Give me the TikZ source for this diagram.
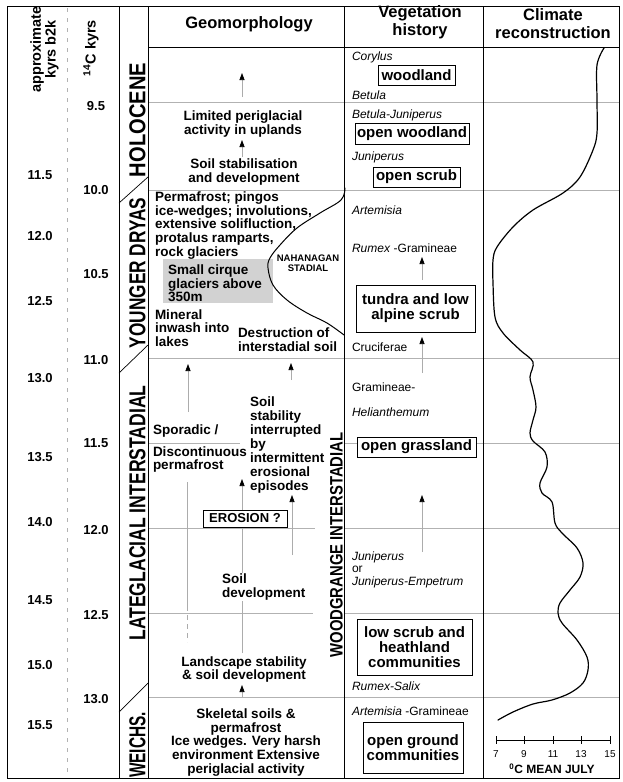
\documentclass[tikz,border=0pt]{standalone}
\usepackage{fontspec}
\setmainfont{Liberation Sans}
\usepackage{graphicx}
\usetikzlibrary{arrows.meta}
\begin{document}
\begin{tikzpicture}[x=1pt,y=-1pt,
  every node/.style={inner sep=0pt, outer sep=0pt},
  gridline/.style={draw=gray!60, line width=0.6pt},
  frameline/.style={draw=black, line width=1pt},
  colline/.style={draw=black, line width=0.9pt},
  hdr/.style={font=\fontsize{16.5}{18}\selectfont\bfseries, align=center},
  axlbl/.style={font=\fontsize{14.5}{13}\selectfont\bfseries, align=center, rotate=90},
  num/.style={font=\fontsize{13}{13}\selectfont\bfseries},
  period/.style={font=\fontsize{23}{23}\selectfont\bfseries, rotate=90},
  geo/.style={font=\fontsize{13.5}{13.8}\selectfont\bfseries, align=center},
  geoleft/.style={font=\fontsize{13.5}{13.6}\selectfont\bfseries, align=left, anchor=west},
  species/.style={font=\fontsize{12}{12}\selectfont\itshape, anchor=west, align=left},
  plainsp/.style={font=\fontsize{12}{12}\selectfont, anchor=west},
  vegbox/.style={draw=black, line width=0.8pt, fill=white, font=\fontsize{15}{15}\selectfont\bfseries, align=center},
  arr/.style={draw=gray!65, line width=0.7pt, -{Triangle[black,length=7pt,width=5pt]}},
  curve/.style={draw=black, line width=1.2pt, line join=round, line cap=round}
]
\useasboundingbox (0,0) rectangle (622,782);

% ---------- grid lines ----------
\draw[gridline] (148,102) -- (619,102);
\draw[gridline] (148,190) -- (619,190);
\draw[gridline] (148,358) -- (619,358);
\draw[gridline] (148,443) -- (240,443);
\draw[gridline] (344,443) -- (619,443);
\draw[gridline] (148,528) -- (315,528);
\draw[gridline] (344,528) -- (619,528);
\draw[gridline] (148,613) -- (313,613);
\draw[gridline] (344,613) -- (619,613);
\draw[gridline] (148,697) -- (619,697);
\draw[draw=gray!60, line width=0.7pt, dash pattern=on 4pt off 6pt] (67,8) -- (67,778);

% ---------- frame and columns ----------
\draw[frameline] (7,6) rectangle (619,778);
\draw[colline] (119,6) -- (119,778);
\draw[colline] (148,6) -- (148,778);
\draw[colline] (344,6) -- (344,778);
\draw[colline] (483,6) -- (483,778);
\draw[colline] (148,47) -- (619,47);
\draw[line width=0.7pt] (119,203) -- (148,177);
\draw[line width=0.7pt] (119,373) -- (148,345);
\draw[line width=0.7pt] (119,712) -- (148,683);

% ---------- headers ----------
\node[axlbl] (hcal) at (44.5,49.5) {approximate\\kyrs b2k};
\node[axlbl] (hc14) at (91,48) {\textsuperscript{14}C kyrs};
\node[hdr] (hgeo) at (249,24) {Geomorphology};
\node[hdr] (hveg) at (420,22.5) {Vegetation\\history};
\node[hdr] (hcli) at (553,24) {Climate\\reconstruction};

% ---------- calibrated ages ----------
\node[num] (c115) at (40,175) {11.5};
\node[num] (c120) at (40,236) {12.0};
\node[num] (c125) at (40,301) {12.5};
\node[num] (c130) at (40,378) {13.0};
\node[num] (c135) at (40,457) {13.5};
\node[num] (c140) at (40,522) {14.0};
\node[num] (c145) at (40,600) {14.5};
\node[num] (c150) at (40,665) {15.0};
\node[num] (c155) at (40,725) {15.5};
% ---------- 14C ages ----------
\node[num] (r095) at (96,106) {9.5};
\node[num] (r100) at (96,190) {10.0};
\node[num] (r105) at (96,274) {10.5};
\node[num] (r110) at (96,360) {11.0};
\node[num] (r115) at (96,443) {11.5};
\node[num] (r120) at (96,530) {12.0};
\node[num] (r125) at (96,615) {12.5};
\node[num] (r130) at (96,699) {13.0};

% ---------- periods ----------
\node[period] (phol) at (137.5,120) {\scalebox{0.875}[1]{HOLOCENE}};
\node[period] (pyd) at (137.5,273) {\scalebox{0.75}[1]{YOUNGER DRYAS}};
\node[period] (pli) at (137.5,513) {\scalebox{0.765}[1]{LATEGLACIAL INTERSTADIAL}};
\node[period] (pwe) at (137.5,745) {\scalebox{0.67}[1]{WEICHS.}};

% ---------- geomorphology ----------
\coordinate (a1s) at (242,97);  \coordinate (a1e) at (242,73);
\coordinate (a2s) at (242,157); \coordinate (a2e) at (242,140);
\coordinate (a3s) at (188,412); \coordinate (a3e) at (188,364);
\coordinate (a4s) at (291,380); \coordinate (a4e) at (291,363);
\coordinate (a5s) at (242,653); \coordinate (a5e) at (242,479);
\coordinate (a6s) at (292,555); \coordinate (a6e) at (292,495);
\coordinate (a7s) at (242,697); \coordinate (a7e) at (242,685);
\coordinate (dls) at (187,482); \coordinate (dlm) at (187,606); \coordinate (dle) at (187,642);
\draw[arr] (a1s) -- (a1e);
\draw[arr] (a2s) -- (a2e);
\draw[arr] (a3s) -- (a3e);
\draw[arr] (a4s) -- (a4e);
\draw[arr] (a5s) -- (a5e);
\draw[arr] (a6s) -- (a6e);
\draw[arr] (a7s) -- (a7e);
\draw[draw=gray!65, line width=0.7pt] (dls) -- (dlm);
\draw[draw=gray!65, line width=0.7pt, dash pattern=on 5pt off 4pt] (dlm) -- (dle);

\node[geo] (glim) at (243,124) {Limited periglacial\\activity in uplands};
\node[geo] (gsoilst) at (244,172) {Soil stabilisation\\and development};

\fill[gray!35] (163,259) rectangle (273,303);
\node[geoleft] (gperm) at (155,225.5) {Permafrost; pingos\\ice-wedges; involutions,\\extensive solifluction,\\protalus ramparts,\\rock glaciers};
\node[geoleft] (gcirq) at (168,283.5) {Small cirque\\glaciers above\\350m};
\draw[curve, line width=1pt] plot[smooth, tension=0.6] coordinates {(345,188) (341,200) (320,213) (297,228) (280,245) (270,258) (268,268) (273,285) (287,300) (307,313) (327,323) (344,335)};
\node[font=\fontsize{9.5}{10.5}\selectfont\bfseries, align=center] (gnah) at (308,263) {NAHANAGAN\\STADIAL};
\node[geoleft] (gmin) at (155,328) {Mineral\\inwash into\\lakes};
\node[geoleft] (gdest) at (238,339.5) {Destruction of\\interstadial soil};

\node[geoleft] (gspor) at (153,431) {Sporadic /};
\node[geoleft] (gdisc) at (153,459.5) {Discontinuous\\permafrost};
\node[geoleft, font=\fontsize{13.5}{14}\selectfont\bfseries] (gstab) at (250,445) {Soil\\stability\\interrupted\\by\\intermittent\\erosional\\episodes};
\node[draw=black, line width=0.8pt, fill=white, minimum width=84pt, minimum height=17pt, font=\fontsize{13}{13}\selectfont\bfseries] (gero) at (245,518.5) {EROSION ?};
\node[geoleft, fill=white, inner sep=1pt] (gsdev) at (221,587) {Soil\\development};
\node[geo] (gland) at (244,669.5) {Landscape stability\\\& soil development};
\node[geo] (gskel) at (246,742.5) {Skeletal soils \&\\permafrost\\Ice wedges. Very harsh\\environment Extensive\\periglacial activity};
\node[font=\fontsize{18}{18}\selectfont\bfseries, rotate=90] (gwood) at (336.5,545) {\scalebox{0.825}[1]{WOODGRANGE INTERSTADIAL}};

% ---------- vegetation ----------
\coordinate (v1s) at (422,280); \coordinate (v1e) at (422,257);
\coordinate (v2s) at (422,373); \coordinate (v2e) at (422,337);
\coordinate (v3s) at (422,552); \coordinate (v3e) at (422,495);
\draw[arr] (v1s) -- (v1e);
\draw[arr] (v2s) -- (v2e);
\draw[arr] (v3s) -- (v3e);

\node[species] (scor) at (352,57) {Corylus};
\node[vegbox, minimum width=77pt, minimum height=20pt] (bwood) at (416.5,75) {woodland};
\node[species] (sbet) at (352,95) {Betula};
\node[species] (sbj) at (352,115) {Betula-Juniperus};
\node[vegbox, minimum width=114pt, minimum height=21pt] (bowood) at (412,133.5) {open woodland};
\node[species] (sjun) at (352,157) {Juniperus};
\node[vegbox, minimum width=87pt, minimum height=20pt] (boscr) at (416.5,177) {open scrub};
\node[species] (sart) at (352,210) {Artemisia};
\node[plainsp] (srum) at (352,248) {\textit{Rumex} -Gramineae};
\node[vegbox, minimum width=119pt, minimum height=47pt] (btun) at (415.5,308.5) {tundra and low\\alpine scrub};
\node[plainsp] (scru) at (352,347) {Cruciferae};
\node[plainsp] (sgram) at (352,387) {Gramineae-};
\node[species] (shel) at (352,412) {Helianthemum};
\node[vegbox, minimum width=119pt, minimum height=20pt] (bgras) at (416.5,447) {open grassland};
\node[species, font=\fontsize{12}{12.5}\selectfont] (sjun2) at (352,569.5) {\textit{Juniperus}\\or\\\textit{Juniperus-Empetrum}};
\node[vegbox, minimum width=115pt, minimum height=56pt] (blow) at (414.5,647) {low scrub and\\heathland\\communities};
\node[species] (srs) at (352,686) {Rumex-Salix};
\node[plainsp] (sartg) at (352,711) {\textit{Artemisia} -Gramineae};
\node[vegbox, minimum width=100pt, minimum height=51pt] (bopen) at (413,747.5) {open ground\\communities};

% ---------- climate ----------
\draw[curve] plot[smooth, tension=0.55] coordinates {(604,48) (597,65) (597,100) (597,133) (593,150) (580,177) (563,193) (533,210) (513,227) (497,247) (493,260) (493,283) (495,317) (503,333) (520,350) (533,362) (530,377) (533,390) (536,407) (533,420) (530,433) (533,441) (545,452) (547,467) (540,483) (542,493) (552,502) (555,523) (562,533) (577,548) (583,563) (580,577) (570,590) (560,603) (558,613) (562,623) (577,640) (587,657) (588,670) (583,683) (570,693) (552,700) (533,704) (513,712) (498,720)};
\draw[line width=0.6pt] (496,740) -- (610,740);
\foreach \tx/\tl in {496/7,524/9,553/11,581/13,610/15}{
  \draw[line width=0.6pt] (\tx,736) -- (\tx,744);
  \node[font=\fontsize{10}{10}\selectfont] (tick\tl) at (\tx,754) {\tl};
}
\node[font=\fontsize{12}{12}\selectfont\bfseries] (axt) at (552,769) {\textsuperscript{0}C MEAN JULY};
\end{tikzpicture}
\end{document}
